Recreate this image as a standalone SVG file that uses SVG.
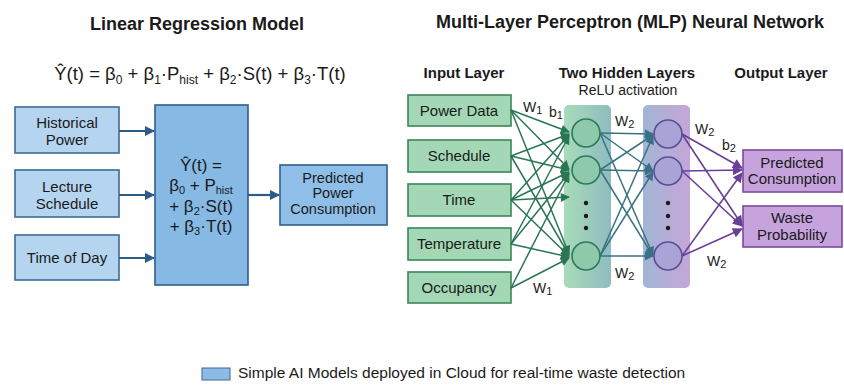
<svg xmlns="http://www.w3.org/2000/svg" width="844" height="385" viewBox="0 0 844 385">
  <defs>
    <style>
      text { font-family: "Liberation Sans", Arial, sans-serif; fill: #1a1a1a; }
      .title { font-size: 18px; font-weight: bold; text-anchor: middle; }
      .layer { font-size: 15px; font-weight: bold; text-anchor: middle; }
      .lbl { font-size: 15px; text-anchor: middle; }
      .eq { font-size: 17px; text-anchor: middle; }
      .eqTop { font-size: 18.5px; text-anchor: middle; }
      .w { font-size: 14px; }
      .sub { font-size: 11px; }
      .inBlue { fill: #b4d4ef; stroke: #3a6a96; stroke-width: 1.6; }
      .midBlue { fill: #86b9e4; stroke: #2f5f8c; stroke-width: 1.6; }
      .outBlue { fill: #8fbfe8; stroke: #2f5f8c; stroke-width: 1.6; }
      .inGreen { fill: #a3d7b5; stroke: #3b8659; stroke-width: 1.6; }
      .outPurple { fill: #c7a3de; stroke: #7a4a9c; stroke-width: 1.6; }
      .n1 { fill: #8fc9ab; stroke: #2c7a5a; stroke-width: 1.6; }
      .n2 { fill: #aaa4d6; stroke: #5a4e96; stroke-width: 1.6; }
      .dot { fill: #1a1a1a; }
      .ab { stroke: #2b5d86; stroke-width: 2.2; fill: none; }
      .ag { stroke: #2a7654; stroke-width: 1.5; fill: none; }
      .at { stroke: #3a7283; stroke-width: 1.5; fill: none; }
      .ap { stroke: #6a3f98; stroke-width: 1.6; fill: none; }
    </style>
    <marker id="mBlue" viewBox="0 0 10 10" refX="9" refY="5" markerWidth="11" markerHeight="10" markerUnits="userSpaceOnUse" orient="auto">
      <path d="M0,0 L10,5 L0,10 z" fill="#2b5d86"/>
    </marker>
    <marker id="mGreen" viewBox="0 0 10 10" refX="9" refY="5" markerWidth="10" markerHeight="9" markerUnits="userSpaceOnUse" orient="auto">
      <path d="M0,0 L10,5 L0,10 z" fill="#2a7654"/>
    </marker>
    <marker id="mTeal" viewBox="0 0 10 10" refX="9" refY="5" markerWidth="10" markerHeight="9" markerUnits="userSpaceOnUse" orient="auto">
      <path d="M0,0 L10,5 L0,10 z" fill="#3a6f88"/>
    </marker>
    <marker id="mPurple" viewBox="0 0 10 10" refX="9" refY="5" markerWidth="11" markerHeight="10" markerUnits="userSpaceOnUse" orient="auto">
      <path d="M0,0 L10,5 L0,10 z" fill="#6a3f98"/>
    </marker>
    <linearGradient id="bandGreen" x1="0" y1="0" x2="1" y2="0">
      <stop offset="0" stop-color="#a8dbba"/>
      <stop offset="1" stop-color="#8fbcc0"/>
    </linearGradient>
    <linearGradient id="bandPurple" x1="0" y1="0" x2="1" y2="0">
      <stop offset="0" stop-color="#a2b6d4"/>
      <stop offset="1" stop-color="#c4a6d8"/>
    </linearGradient>
  </defs>

  <rect width="844" height="385" fill="#ffffff"/>

  <!-- Linear regression side -->
  <text class="title" x="197" y="30">Linear Regression Model</text>
  <text class="eqTop" x="200" y="80">Ŷ(t) = β<tspan class="sub" style="font-size:12px" dy="4">0</tspan><tspan dy="-4"> + β</tspan><tspan class="sub" style="font-size:12px" dy="4">1</tspan><tspan dy="-4">·P</tspan><tspan class="sub" style="font-size:12px" dy="4">hist</tspan><tspan dy="-4"> + β</tspan><tspan class="sub" style="font-size:12px" dy="4">2</tspan><tspan dy="-4">·S(t) + β</tspan><tspan class="sub" style="font-size:12px" dy="4">3</tspan><tspan dy="-4">·T(t)</tspan></text>

  <g id="historical-power">
    <rect class="inBlue" x="15" y="107" width="104" height="46"/>
    <text class="lbl" x="67" y="128">Historical</text>
    <text class="lbl" x="67" y="145">Power</text>
  </g>
  <g id="lecture-schedule">
    <rect class="inBlue" x="15" y="170" width="104" height="47"/>
    <text class="lbl" x="67" y="192">Lecture</text>
    <text class="lbl" x="67" y="209">Schedule</text>
  </g>
  <g id="time-of-day">
    <rect class="inBlue" x="15" y="235" width="104" height="45"/>
    <text class="lbl" x="67" y="263">Time of Day</text>
  </g>
  <g id="regression-model">
    <rect class="midBlue" x="155" y="105" width="93" height="180"/>
    <text class="eq" x="201" y="171">Ŷ(t) =</text>
    <text class="eq" x="201" y="191">β<tspan class="sub" dy="3">0</tspan><tspan dy="-3"> + P</tspan><tspan class="sub" dy="3">hist</tspan></text>
    <text class="eq" x="201" y="212">+ β<tspan class="sub" dy="3">2</tspan><tspan dy="-3">·S(t)</tspan></text>
    <text class="eq" x="201" y="232">+ β<tspan class="sub" dy="3">3</tspan><tspan dy="-3">·T(t)</tspan></text>
  </g>
  <g id="predicted-power">
    <rect class="outBlue" x="280" y="165" width="107" height="60"/>
    <text class="lbl" x="333" y="183" style="font-size:14.5px">Predicted</text>
    <text class="lbl" x="333" y="198" style="font-size:14.5px">Power</text>
    <text class="lbl" x="333" y="214" style="font-size:14.5px">Consumption</text>
  </g>

  <!-- MLP side -->
  <text class="title" x="630" y="28">Multi-Layer Perceptron (MLP) Neural Network</text>
  <text class="layer" x="464" y="78">Input Layer</text>
  <text class="layer" x="627" y="78">Two Hidden Layers</text>
  <text class="lbl" x="628" y="95" style="font-size:14px">ReLU activation</text>
  <text class="layer" x="781" y="78">Output Layer</text>

  <g id="hidden-layer-1">
    <rect x="564" y="105" width="47" height="183" rx="5" fill="url(#bandGreen)"/>
    <circle class="n1" cx="586" cy="133" r="14"/>
    <circle class="n1" cx="586" cy="170" r="14"/>
    <circle class="n1" cx="586" cy="256" r="14"/>
    <circle class="dot" cx="586" cy="203" r="2.2"/>
    <circle class="dot" cx="586" cy="216" r="2.2"/>
    <circle class="dot" cx="586" cy="228" r="2.2"/>
  </g>
  <g id="hidden-layer-2">
    <rect x="643" y="105" width="47" height="183" rx="5" fill="url(#bandPurple)"/>
    <circle class="n2" cx="668" cy="134" r="14"/>
    <circle class="n2" cx="668" cy="171" r="14"/>
    <circle class="n2" cx="668" cy="256" r="14"/>
    <circle class="dot" cx="668" cy="203" r="2.2"/>
    <circle class="dot" cx="668" cy="216" r="2.2"/>
    <circle class="dot" cx="668" cy="228" r="2.2"/>
  </g>

  <g id="input-power-data">
    <rect class="inGreen" x="408" y="95" width="103" height="31"/>
    <text class="lbl" x="459" y="116">Power Data</text>
  </g>
  <g id="input-schedule">
    <rect class="inGreen" x="408" y="140" width="103" height="32"/>
    <text class="lbl" x="459" y="161">Schedule</text>
  </g>
  <g id="input-time">
    <rect class="inGreen" x="408" y="184" width="103" height="32"/>
    <text class="lbl" x="459" y="205">Time</text>
  </g>
  <g id="input-temperature">
    <rect class="inGreen" x="408" y="228" width="103" height="32"/>
    <text class="lbl" x="459" y="249">Temperature</text>
  </g>
  <g id="input-occupancy">
    <rect class="inGreen" x="408" y="272" width="103" height="31"/>
    <text class="lbl" x="459" y="293">Occupancy</text>
  </g>

  <g id="output-consumption">
    <rect class="outPurple" x="743" y="150" width="99" height="42"/>
    <text class="lbl" x="792" y="168">Predicted</text>
    <text class="lbl" x="792" y="184">Consumption</text>
  </g>
  <g id="output-waste">
    <rect class="outPurple" x="743" y="206" width="99" height="41"/>
    <text class="lbl" x="792" y="223">Waste</text>
    <text class="lbl" x="792" y="240">Probability</text>
  </g>

  <!-- Connectors -->
  <g id="connectors">
    <!-- regression inputs to model, model to output -->
    <line class="ab" x1="119" y1="131" x2="154" y2="131" marker-end="url(#mBlue)"/>
    <line class="ab" x1="119" y1="195" x2="154" y2="195" marker-end="url(#mBlue)"/>
    <line class="ab" x1="119" y1="258" x2="154" y2="258" marker-end="url(#mBlue)"/>
    <line class="ab" x1="248" y1="195" x2="279" y2="195" marker-end="url(#mBlue)"/>

    <!-- input layer to hidden layer 1 -->
    <line class="ag" x1="511" y1="110" x2="569" y2="132" marker-end="url(#mGreen)"/>
    <line class="ag" x1="511" y1="110" x2="569" y2="169" marker-end="url(#mGreen)"/>
    <line class="ag" x1="511" y1="110" x2="569" y2="254" marker-end="url(#mGreen)"/>
    <line class="ag" x1="511" y1="156" x2="569" y2="134" marker-end="url(#mGreen)"/>
    <line class="ag" x1="511" y1="156" x2="569" y2="170" marker-end="url(#mGreen)"/>
    <line class="ag" x1="511" y1="156" x2="569" y2="255" marker-end="url(#mGreen)"/>
    <line class="ag" x1="511" y1="200" x2="569" y2="135" marker-end="url(#mGreen)"/>
    <line class="ag" x1="511" y1="200" x2="569" y2="172" marker-end="url(#mGreen)"/>
    <line class="ag" x1="511" y1="200" x2="569" y2="197" marker-end="url(#mGreen)"/>
    <line class="ag" x1="511" y1="200" x2="569" y2="256" marker-end="url(#mGreen)"/>
    <line class="ag" x1="511" y1="244" x2="569" y2="136" marker-end="url(#mGreen)"/>
    <line class="ag" x1="511" y1="244" x2="569" y2="173" marker-end="url(#mGreen)"/>
    <line class="ag" x1="511" y1="244" x2="569" y2="257" marker-end="url(#mGreen)"/>
    <line class="ag" x1="511" y1="288" x2="569" y2="174" marker-end="url(#mGreen)"/>
    <line class="ag" x1="511" y1="288" x2="569" y2="258" marker-end="url(#mGreen)"/>

    <!-- hidden layer 1 to hidden layer 2 -->
    <line class="at" x1="600" y1="133" x2="653" y2="134" marker-end="url(#mTeal)"/>
    <line class="at" x1="600" y1="133" x2="653" y2="171" marker-end="url(#mTeal)"/>
    <line class="at" x1="600" y1="133" x2="653" y2="255" marker-end="url(#mTeal)"/>
    <line class="at" x1="600" y1="170" x2="653" y2="135" marker-end="url(#mTeal)"/>
    <line class="at" x1="600" y1="170" x2="653" y2="171" marker-end="url(#mTeal)"/>
    <line class="at" x1="600" y1="170" x2="653" y2="256" marker-end="url(#mTeal)"/>
    <line class="at" x1="600" y1="256" x2="653" y2="136" marker-end="url(#mTeal)"/>
    <line class="at" x1="600" y1="256" x2="653" y2="172" marker-end="url(#mTeal)"/>
    <line class="at" x1="600" y1="256" x2="653" y2="256" marker-end="url(#mTeal)"/>

    <!-- hidden layer 2 to output layer -->
    <line class="ap" x1="682" y1="134" x2="742" y2="168" marker-end="url(#mPurple)"/>
    <line class="ap" x1="682" y1="134" x2="742" y2="225" marker-end="url(#mPurple)"/>
    <line class="ap" x1="682" y1="171" x2="742" y2="170" marker-end="url(#mPurple)"/>
    <line class="ap" x1="682" y1="171" x2="742" y2="226" marker-end="url(#mPurple)"/>
    <line class="ap" x1="682" y1="256" x2="742" y2="173" marker-end="url(#mPurple)"/>
    <line class="ap" x1="682" y1="256" x2="742" y2="229" marker-end="url(#mPurple)"/>

    <!-- weight and bias labels -->
    <text class="w" x="523" y="112">W<tspan class="sub" dy="2">1</tspan></text>
    <text class="w" x="549" y="117">b<tspan class="sub" dy="2">1</tspan></text>
    <text class="w" x="533" y="293">W<tspan class="sub" dy="2">1</tspan></text>
    <text class="w" x="615" y="126">W<tspan class="sub" dy="2">2</tspan></text>
    <text class="w" x="615" y="278">W<tspan class="sub" dy="2">2</tspan></text>
    <text class="w" x="695" y="134">W<tspan class="sub" dy="2">2</tspan></text>
    <text class="w" x="722" y="150">b<tspan class="sub" dy="2">2</tspan></text>
    <text class="w" x="707" y="266">W<tspan class="sub" dy="2">2</tspan></text>
  </g>

  <!-- legend -->
  <g id="legend">
    <rect x="202" y="368" width="28" height="12" fill="#8dbbe6" stroke="#3a6a96" stroke-width="1"/>
    <text x="238" y="378" style="font-size:15.5px">Simple AI Models deployed in Cloud for real-time waste detection</text>
  </g>
</svg>
